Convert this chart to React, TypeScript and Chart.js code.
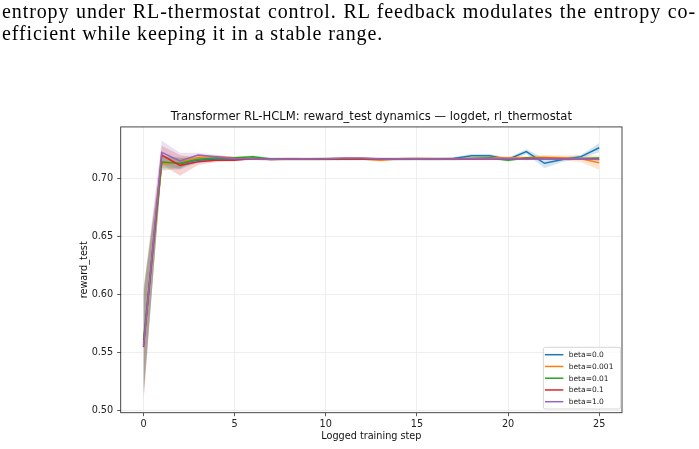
import React, { useEffect, useRef } from 'react';
import { Chart, registerables } from 'chart.js';

Chart.register(...registerables);

// ---------- data ----------
const steps = [0, 1, 2, 3, 4, 5, 6, 7, 8, 9, 10, 11, 12, 13, 14, 15, 16, 17, 18, 19, 20, 21, 22, 23, 24, 25];

const seriesLabels = ['beta=0.0', 'beta=0.001', 'beta=0.01', 'beta=0.1', 'beta=1.0'];
const seriesColors = ['#1f77b4', '#ff7f0e', '#2ca02c', '#d62728', '#9467bd'];
const bandColors = [
  'rgba(31,119,180,0.2)',
  'rgba(255,127,14,0.2)',
  'rgba(44,160,44,0.2)',
  'rgba(214,39,40,0.2)',
  'rgba(148,103,189,0.2)',
];

const meanBeta0 = [0.557, 0.714, 0.713, 0.716, 0.717, 0.717, 0.717, 0.717, 0.717, 0.717, 0.717, 0.717, 0.717, 0.717, 0.717, 0.717, 0.717, 0.7175, 0.7198, 0.7198, 0.7165, 0.7233, 0.7133, 0.7165, 0.719, 0.7267];
const meanBeta0001 = [0.559, 0.7127, 0.7138, 0.7184, 0.719, 0.718, 0.7175, 0.717, 0.717, 0.7168, 0.717, 0.7172, 0.717, 0.7158, 0.7172, 0.7175, 0.7172, 0.7172, 0.7175, 0.718, 0.7178, 0.718, 0.7185, 0.718, 0.7172, 0.7138];
const meanBeta001 = [0.561, 0.7144, 0.7133, 0.7167, 0.7178, 0.718, 0.719, 0.717, 0.717, 0.717, 0.717, 0.7172, 0.7172, 0.717, 0.717, 0.717, 0.717, 0.717, 0.7175, 0.7178, 0.716, 0.7178, 0.7175, 0.7172, 0.7175, 0.7178];
const meanBeta01 = [0.555, 0.7204, 0.7115, 0.7147, 0.7158, 0.716, 0.7173, 0.7165, 0.717, 0.7168, 0.717, 0.717, 0.7172, 0.717, 0.7168, 0.717, 0.717, 0.717, 0.717, 0.717, 0.7172, 0.7172, 0.7175, 0.7172, 0.7172, 0.7168];
const meanBeta1 = [0.5558, 0.7227, 0.7153, 0.7204, 0.719, 0.7175, 0.7172, 0.7168, 0.717, 0.717, 0.7172, 0.7178, 0.7178, 0.717, 0.717, 0.7172, 0.717, 0.717, 0.7172, 0.7172, 0.7175, 0.7168, 0.7172, 0.717, 0.7172, 0.7165];

const stdBeta0 = [0.043, 0.006, 0.005, 0.002, 0.0015, 0.0012, 0.001, 0.001, 0.001, 0.001, 0.001, 0.001, 0.001, 0.001, 0.001, 0.001, 0.001, 0.0012, 0.0015, 0.0015, 0.0015, 0.002, 0.004, 0.002, 0.0015, 0.004];
const stdBeta0001 = [0.044, 0.006, 0.005, 0.002, 0.0015, 0.0012, 0.001, 0.001, 0.001, 0.001, 0.001, 0.001, 0.001, 0.0012, 0.001, 0.001, 0.001, 0.001, 0.001, 0.0015, 0.0015, 0.0015, 0.002, 0.002, 0.003, 0.006];
const stdBeta001 = [0.045, 0.005, 0.004, 0.002, 0.0012, 0.001, 0.0012, 0.001, 0.001, 0.001, 0.001, 0.001, 0.001, 0.001, 0.001, 0.001, 0.001, 0.001, 0.001, 0.001, 0.0012, 0.001, 0.001, 0.001, 0.001, 0.001];
const stdBeta01 = [0.046, 0.008, 0.009, 0.003, 0.0015, 0.001, 0.001, 0.001, 0.001, 0.001, 0.001, 0.001, 0.001, 0.001, 0.001, 0.001, 0.001, 0.001, 0.001, 0.001, 0.001, 0.001, 0.001, 0.001, 0.001, 0.001];
const stdBeta1 = [0.049, 0.010, 0.007, 0.002, 0.0015, 0.001, 0.001, 0.001, 0.001, 0.001, 0.001, 0.001, 0.001, 0.001, 0.001, 0.001, 0.001, 0.001, 0.001, 0.001, 0.001, 0.001, 0.001, 0.001, 0.001, 0.001];

const xTicks = [0, 5, 10, 15, 20, 25];
const yTicks = [0.5, 0.55, 0.6, 0.65, 0.7];

const chartTitle = 'Transformer RL-HCLM: reward_test dynamics — logdet, rl_thermostat';
const xLabel = 'Logged training step';
const yLabel = 'reward_test';
const captionLine1 = 'entropy under RL-thermostat control. RL feedback modulates the entropy co-';
const captionLine2 = 'efficient while keeping it in a stable range.';

const seriesMeans = [meanBeta0, meanBeta0001, meanBeta001, meanBeta01, meanBeta1];
const seriesStds = [stdBeta0, stdBeta0001, stdBeta001, stdBeta01, stdBeta1];

const FONT = '"DejaVu Sans", sans-serif';

const spinePlugin = {
  id: 'spines',
  afterDraw(chart: any) {
    const { ctx, chartArea } = chart;
    ctx.save();
    ctx.strokeStyle = '#333';
    ctx.lineWidth = 0.9;
    ctx.strokeRect(chartArea.left, chartArea.top, chartArea.right - chartArea.left, chartArea.bottom - chartArea.top);
    ctx.restore();
  },
};

const legendPlugin = {
  id: 'boxLegend',
  afterDraw(chart: any) {
    const { ctx, chartArea } = chart;
    ctx.save();
    ctx.font = `7.5px ${FONT}`;
    const rowH = 11.75;
    const textW = Math.max(...seriesLabels.map((l) => ctx.measureText(l).width));
    const w = 25.4 + textW + 7.3;
    const h = 7.4 + rowH * (seriesLabels.length - 1) + 7.3;
    const right = chartArea.right - 1.3;
    const bottom = chartArea.bottom - 3.7;
    const left = right - w;
    const top = bottom - h;
    ctx.beginPath();
    if (ctx.roundRect) ctx.roundRect(left, top, w, h, 2);
    else ctx.rect(left, top, w, h);
    ctx.fillStyle = 'rgba(255,255,255,0.8)';
    ctx.fill();
    ctx.strokeStyle = '#cccccc';
    ctx.lineWidth = 0.8;
    ctx.stroke();
    seriesLabels.forEach((label, i) => {
      const cy = top + 7.4 + i * rowH;
      ctx.beginPath();
      ctx.moveTo(left + 1.6, cy);
      ctx.lineTo(left + 20, cy);
      ctx.strokeStyle = seriesColors[i];
      ctx.lineWidth = 1.5;
      ctx.stroke();
      ctx.fillStyle = '#222';
      ctx.textBaseline = 'middle';
      ctx.textAlign = 'left';
      ctx.fillText(label, left + 25.4, cy + 0.5);
    });
    ctx.restore();
  },
};

export default function App() {
  const ref = useRef<HTMLCanvasElement>(null);

  useEffect(() => {
    const canvas = ref.current;
    if (!canvas) return;
    const datasets: any[] = [];
    seriesMeans.forEach((mean, i) => {
      const std = seriesStds[i];
      datasets.push({
        label: seriesLabels[i] + ' lower',
        data: steps.map((s, k) => ({ x: s, y: mean[k] - std[k] })),
        borderWidth: 0,
        borderColor: 'rgba(0,0,0,0)',
        pointRadius: 0,
        fill: false,
        order: 10,
      });
      datasets.push({
        label: seriesLabels[i] + ' upper',
        data: steps.map((s, k) => ({ x: s, y: mean[k] + std[k] })),
        borderWidth: 0,
        borderColor: 'rgba(0,0,0,0)',
        backgroundColor: bandColors[i],
        pointRadius: 0,
        fill: '-1',
        order: 10,
      });
    });
    seriesMeans.forEach((mean, i) => {
      datasets.push({
        label: seriesLabels[i],
        data: steps.map((s, k) => ({ x: s, y: mean[k] })),
        borderColor: seriesColors[i],
        backgroundColor: seriesColors[i],
        borderWidth: 1.5,
        pointRadius: 0,
        fill: false,
        tension: 0,
        order: 5 - i,
      });
    });

    const chart = new Chart(canvas, {
      type: 'line',
      data: { datasets },
      options: {
        animation: false,
        responsive: false,
        maintainAspectRatio: false,
        layout: { padding: { left: 78, right: 77, top: 0, bottom: 0 } },
        plugins: {
          legend: { display: false },
          tooltip: { enabled: false },
          title: {
            display: true,
            text: chartTitle,
            fullSize: false,
            color: '#111',
            font: { family: FONT, size: 11.6, weight: 'normal', lineHeight: 1.2 },
            padding: { top: 109.7, bottom: 3.3 },
          },
        },
        scales: {
          x: {
            type: 'linear',
            min: -1.25,
            max: 26.25,
            afterBuildTicks: (scale: any) => {
              scale.ticks = xTicks.map((v) => ({ value: v }));
            },
            afterFit: (scale: any) => {
              scale.height = 36.3;
            },
            ticks: {
              color: '#222',
              font: { family: FONT, size: 9.7 },
              padding: 2.5,
              maxRotation: 0,
              callback: (v: any) => String(v),
            },
            grid: {
              color: '#ebebeb',
              lineWidth: 0.8,
              drawTicks: true,
              tickLength: 3.5,
              tickColor: '#333',
              tickWidth: 0.8,
            },
            border: { display: false },
            title: {
              display: true,
              text: xLabel,
              color: '#111',
              font: { family: FONT, size: 9.7, lineHeight: 1.2 },
              padding: { top: 0, bottom: 7.2 },
            },
          },
          y: {
            type: 'linear',
            min: 0.4985,
            max: 0.7446,
            afterBuildTicks: (scale: any) => {
              scale.ticks = yTicks.map((v) => ({ value: v }));
            },
            afterFit: (scale: any) => {
              scale.width = 42.7;
            },
            ticks: {
              color: '#222',
              font: { family: FONT, size: 9.7 },
              padding: 4,
              callback: (v: any) => Number(v).toFixed(2),
            },
            grid: {
              color: '#ebebeb',
              lineWidth: 0.8,
              drawTicks: true,
              tickLength: 3.5,
              tickColor: '#333',
              tickWidth: 0.8,
            },
            border: { display: false },
            title: {
              display: true,
              text: yLabel,
              color: '#111',
              font: { family: FONT, size: 9.7, lineHeight: 1.2 },
              padding: { top: 0.5, bottom: 0 },
            },
          },
        },
      } as any,
      plugins: [spinePlugin, legendPlugin],
    });

    return () => chart.destroy();
  }, []);

  return (
    <div
      style={{
        position: 'fixed',
        left: 0,
        top: 0,
        width: 699,
        height: 449,
        background: '#fff',
        overflow: 'hidden',
      }}
    >
      <canvas
        ref={ref}
        width={699}
        height={449}
        style={{ position: 'absolute', left: 0, top: 0, width: 699, height: 449 }}
      />
      <div
        style={{
          position: 'absolute',
          left: 2,
          top: 0,
          width: 694,
          fontFamily: '"Liberation Serif", "Times New Roman", serif',
          fontSize: 20,
          lineHeight: '22px',
          letterSpacing: '0.9px',
          color: '#000',
        }}
      >
        <div style={{ textAlign: 'justify', textAlignLast: 'justify' } as any}>{captionLine1}</div>
        <div style={{ textAlign: 'left' }}>{captionLine2}</div>
      </div>
    </div>
  );
}
